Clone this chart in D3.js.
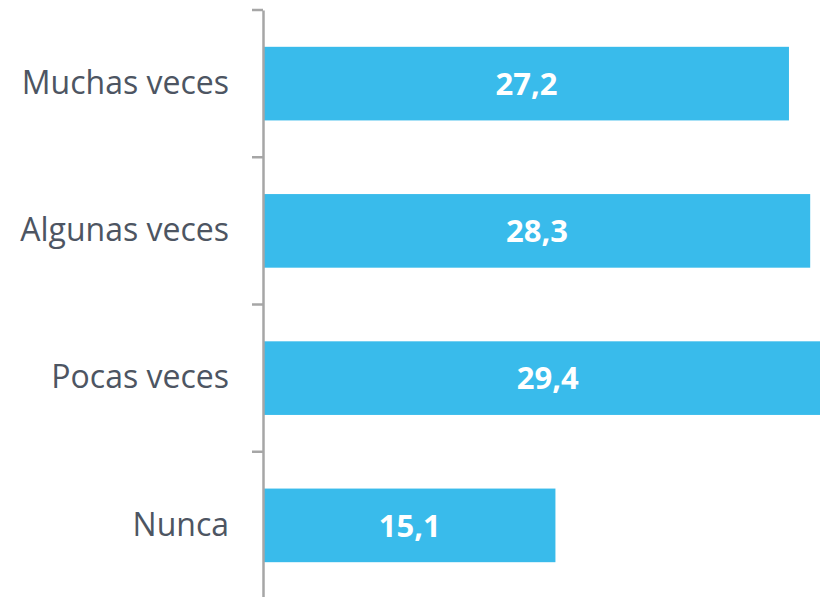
<!DOCTYPE html>
<html lang="es">
  <head>
    <meta charset="utf-8">
    <script src="https://d3js.org/d3.v7.min.js"></script>
    <style>
      body {margin: 0; background: #fff;}
      svg {display: block;}
    </style>
  </head>
  <body>
    <script type="text/javascript">
      // data
      const categories = ["Muchas veces", "Algunas veces", "Pocas veces", "Nunca"];
      const values = [27.2, 28.3, 29.4, 15.1];
      const valueLabels = ["27,2", "28,3", "29,4", "15,1"];

      const w = 820;
      const h = 597;
      const axisX = 263;

      var svg = d3.select("body")
            .append("svg")
            .attr("width", w)
            .attr("height", h);

      // scales
      var xScale = d3.scaleLinear()
            .domain([0, 29.4])
            .range([axisX + 1, axisX + 1 + 29.4 * 19.3]);
      var yScale = d3.scaleBand()
            .domain(categories)
            .range([10, 599])
            .paddingInner(0.5)
            .paddingOuter(0.25);

      // bars
      svg.selectAll("rect.bar")
          .data(values)
          .enter()
          .append("rect")
          .attr("class", "bar")
          .attr("x", xScale(0))
          .attr("y", function(d, i) { return yScale(categories[i]); })
          .attr("width", function(d) { return xScale(d) - xScale(0); })
          .attr("height", yScale.bandwidth())
          .attr("fill", "#39bbeb");

      // value labels
      svg.selectAll("text.val")
          .data(values)
          .enter()
          .append("text")
          .attr("class", "val")
          .attr("x", function(d) { return (xScale(0) + xScale(d)) / 2; })
          .attr("y", function(d, i) { return yScale(categories[i]) + yScale.bandwidth() / 2; })
          .attr("dy", "0.36em")
          .attr("text-anchor", "middle")
          .attr("fill", "#fff")
          .style("font-family", "'Open Sans', sans-serif")
          .style("font-weight", "bold")
          .style("font-size", "31px")
          .text(function(d, i) { return valueLabels[i]; });

      // y axis with ticks between categories
      var yAxis = d3.axisLeft(yScale)
            .tickSize(0)
            .tickPadding(34);
      var g = svg.append("g")
          .attr("transform", "translate(" + axisX + ",0)")
          .call(yAxis);
      g.select(".domain").attr("stroke", "#a6a6a6").attr("stroke-width", 2.5);
      g.selectAll("text")
          .attr("fill", "#4d5562")
          .style("font-family", "'Open Sans', sans-serif")
          .style("font-size", "32px");

      // separator ticks at band edges
      var edges = categories.map(function(c) { return yScale(c) - yScale.step() * yScale.paddingInner() / 2; });
      g.selectAll("line.sep")
          .data(edges)
          .enter()
          .append("line")
          .attr("class", "sep")
          .attr("x1", -11)
          .attr("x2", 0)
          .attr("y1", function(d) { return d; })
          .attr("y2", function(d) { return d; })
          .attr("stroke", "#a6a6a6")
          .attr("stroke-width", 2.5);
    </script>
  </body>
</html>
